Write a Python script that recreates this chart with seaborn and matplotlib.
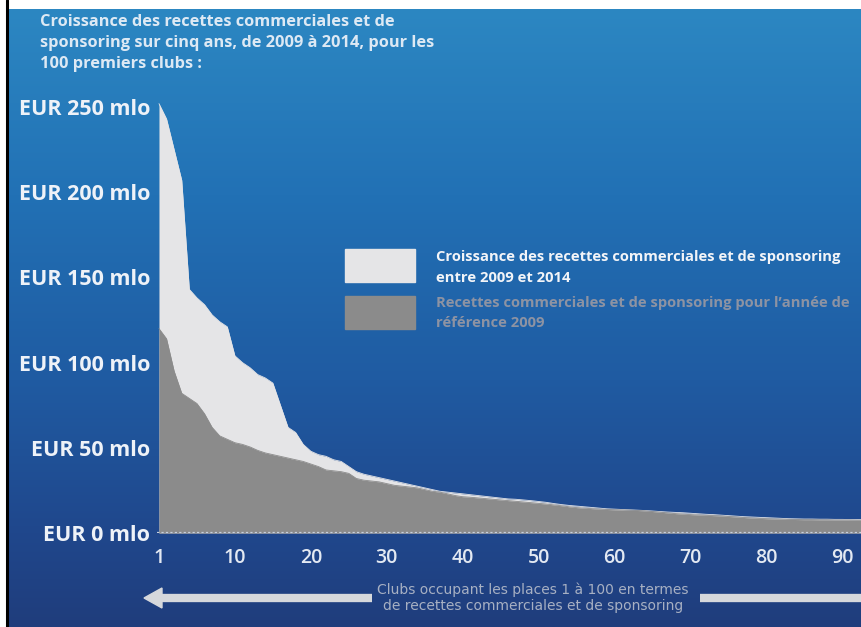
import numpy as np
import pandas as pd
import matplotlib
matplotlib.use("Agg")
import matplotlib.pyplot as plt
import seaborn as sns
from matplotlib.patches import Rectangle, Polygon
from matplotlib.colors import LinearSegmentedColormap

# ---------------- data (EUR mio) ----------------
total_2014 = [252, 243, 225, 207, 143, 138, 134, 128, 124, 121,
              104, 100, 97, 93, 91, 88, 75, 62, 59, 52,
              48, 46, 45, 43, 42, 39, 36, 34.5, 33.5, 32.5,
              31.5, 30.5, 29.5, 28.5, 27.5, 26.5, 25.5, 24.5, 24, 23.5,
              23, 22.5, 22, 21.5, 21, 20.5, 20, 19.8, 19.4, 19,
              18.5, 18, 17.3, 16.7, 16.2, 15.8, 15.4, 15, 14.6, 14.2,
              14, 13.8, 13.6, 13.4, 13.2, 12.9, 12.6, 12.3, 12.1, 11.9,
              11.6, 11.3, 11, 10.8, 10.5, 10.2, 9.9, 9.6, 9.4, 9.2,
              9.0, 8.8, 8.6, 8.4, 8.3, 8.2, 8.2, 8.1, 8.1, 8.0,
              8.0, 7.9, 7.9, 7.9]
base_2009 = [120, 114, 95, 82, 79, 76, 70, 62, 57, 55,
             53, 52, 50.5, 48.5, 47, 46, 45, 44, 43, 42,
             40.5, 39, 37, 36.5, 36, 35, 32, 31, 30.5, 30,
             29, 28, 27.5, 27, 26.5, 25.5, 24.5, 24, 23, 22,
             21.3, 21, 20.6, 20.2, 19.8, 19.4, 19, 18.6, 18.2, 17.8,
             17.4, 17, 16.5, 16, 15.4, 14.9, 14.6, 14.3, 14, 13.8,
             13.6, 13.5, 13.4, 13.2, 13, 12.6, 12.2, 11.8, 11.4, 11.1,
             10.8, 10.6, 10.4, 10.2, 10.0, 9.7, 9.4, 9.1, 8.8, 8.6,
             8.4, 8.2, 8.1, 8.0, 7.9, 7.8, 7.8, 7.7, 7.7, 7.6,
             7.6, 7.6, 7.5, 7.5]
club_index = list(range(len(total_2014)))
x_ticks = [0, 10, 20, 30, 40, 50, 60, 70, 80, 90]
x_tick_labels = ["1", "10", "20", "30", "40", "50", "60", "70", "80", "90"]
y_ticks = [0, 50, 100, 150, 200, 250]
y_tick_labels = ["EUR 0 mlo", "EUR 50 mlo", "EUR 100 mlo", "EUR 150 mlo",
                 "EUR 200 mlo", "EUR 250 mlo"]

title_lines = ["Croissance des recettes commerciales et de",
               "sponsoring sur cinq ans, de 2009 à 2014, pour les",
               "100 premiers clubs :"]
legend_growth = ["Croissance des recettes commerciales et de sponsoring",
                 "entre 2009 et 2014"]
legend_base = ["Recettes commerciales et de sponsoring pour l’année de",
               "référence 2009"]
caption = ["Clubs occupant les places 1 à 100 en termes",
           "de recettes commerciales et de sponsoring"]

df = pd.DataFrame({"club": club_index, "total": total_2014, "base": base_2009})

# ---------------- style ----------------
sns.set_theme(style="white")
plt.rcParams["font.family"] = ["Open Sans", "DejaVu Sans"]

W, H = 862, 627
fig = plt.figure(figsize=(W / 100, H / 100), dpi=100, facecolor="white")

# background gradient (pixel coordinates)
bg = fig.add_axes([0, 0, 1, 1])
bg.set_xlim(0, W)
bg.set_ylim(H, 0)
bg.axis("off")
cmap = LinearSegmentedColormap.from_list(
    "bgblue",
    [(0.0, "#2c87c2"), (0.3, "#2271b5"), (0.6, "#1f5ba2"),
     (0.85, "#20478c"), (1.0, "#1f3d7c")])
grad = np.linspace(0, 1, 256).reshape(-1, 1)
bg.imshow(grad, cmap=cmap, aspect="auto", extent=[9, W, H, 9], zorder=0)
bg.plot([7, 7], [0, H], color="black", lw=2.2, zorder=2)

# main axes
ax_left, ax_right, ax_bottom, ax_top = 157, 862, 533, 90
ax = fig.add_axes([ax_left / W, 1 - ax_bottom / H,
                   (ax_right - ax_left) / W, (ax_bottom - ax_top) / H])
ax.set_facecolor("none")

light = "#e5e5e7"
grey = "#8b8b8b"
ax.fill_between(df["club"], 0, df["total"], color=light, lw=0, zorder=2)
ax.fill_between(df["club"], 0, df["base"], color=grey, lw=0, zorder=3)
sns.lineplot(data=df, x="club", y="total", ax=ax, color=light, lw=0.6, zorder=2)
sns.lineplot(data=df, x="club", y="base", ax=ax, color=grey, lw=0.6, zorder=3)

ax.axhline(0, color="#c9d1de", lw=1.6, ls=(0, (1, 1)), zorder=4)

ax.set_xlim(-0.26, 92.6)
ax.set_ylim(0, 260)
ax.set_xticks(x_ticks)
ax.set_xticklabels(x_tick_labels)
ax.set_yticks(y_ticks)
ax.set_yticklabels(y_tick_labels)
ax.set_xlabel("")
ax.set_ylabel("")
ax.tick_params(axis="x", length=0, pad=11, labelsize=14, labelcolor="#e3e9f2")
ax.tick_params(axis="y", length=0, pad=5, labelsize=15.5, labelcolor="#eef2f8")
for lab in ax.get_yticklabels():
    lab.set_fontweight("bold")
for lab in ax.get_xticklabels():
    lab.set_fontweight("semibold")
for s in ax.spines.values():
    s.set_visible(False)
ax.grid(False)


def fy(py):
    return 1 - py / H


def fx(px):
    return px / W


# title
for i, line in enumerate(title_lines):
    fig.text(fx(40), fy(22 + i * 21), line, ha="left", va="center",
             fontsize=11.8, fontweight="bold", color="#dde9f4")

# legend
fig.patches.append(Rectangle((fx(345), fy(282)), fx(415) - fx(345), fy(249) - fy(282),
                             transform=fig.transFigure, color=light, zorder=5))
fig.patches.append(Rectangle((fx(345), fy(329)), fx(415) - fx(345), fy(296) - fy(329),
                             transform=fig.transFigure, color=grey, zorder=5))
for i, line in enumerate(legend_growth):
    fig.text(fx(436), fy(257 + i * 21), line, ha="left", va="center",
             fontsize=10.6, fontweight="bold", color="#f2f4f8")
for i, line in enumerate(legend_base):
    fig.text(fx(436), fy(303 + i * 20), line, ha="left", va="center",
             fontsize=10.6, fontweight="bold", color="#8d93a3")

# bottom arrow and caption
arrow_col = "#d6d8dc"
bg.plot([158, 372], [598, 598], color=arrow_col, lw=6, solid_capstyle="butt", zorder=3)
bg.add_patch(Polygon([[144, 598], [162, 588], [162, 608]], closed=True,
                     color=arrow_col, zorder=3))
bg.plot([700, 862], [598, 598], color=arrow_col, lw=6, solid_capstyle="butt", zorder=3)
for i, line in enumerate(caption):
    fig.text(fx(533), fy(590 + i * 16), line, ha="center", va="center",
             fontsize=10, color="#a7b0c3",
             family=["Liberation Sans Narrow", "DejaVu Sans"])

fig.savefig("out.png", dpi=100, facecolor="white")
